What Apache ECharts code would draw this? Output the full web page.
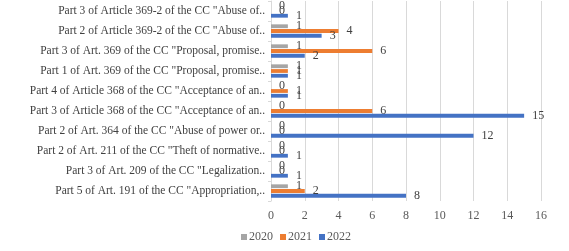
<!DOCTYPE html>
<html><head><meta charset="utf-8">
<script src="https://cdn.jsdelivr.net/npm/echarts@6/dist/echarts.min.js"></script>
<style>html,body{margin:0;padding:0;background:#fff}#c{width:569px;height:251px}</style>
</head><body><div id="c"></div>
<script>
// categories listed top to bottom
const categories = [
  'Part 3 of Article 369-2 of the CC "Abuse of..',
  'Part 2 of Article 369-2 of the CC "Abuse of..',
  'Part 3 of Art. 369 of the CC "Proposal, promise..',
  'Part 1 of Art. 369 of the CC "Proposal, promise..',
  'Part 4 of Article 368 of the CC "Acceptance of an..',
  'Part 3 of Article 368 of the CC "Acceptance of an..',
  'Part 2 of Art. 364 of the CC "Abuse of power or..',
  'Part 2 of Art. 211 of the CC "Theft of normative..',
  'Part 3 of Art. 209 of the CC "Legalization..',
  'Part 5 of Art. 191 of the CC "Appropriation,..'
];
const seriesNames = ['2020', '2021', '2022'];
const values2020 = [0, 1, 1, 1, 0, 0, 0, 0, 0, 1];
const values2021 = [0, 4, 6, 1, 1, 6, 0, 0, 0, 2];
const values2022 = [1, 3, 2, 1, 1, 15, 12, 1, 1, 8];
const xTicks = [0, 2, 4, 6, 8, 10, 12, 14, 16];

const colors = ['#a5a5a5', '#ed7d31', '#4472c4'];
const font = '"Liberation Serif", "DejaVu Serif", serif';
const dataSets = [values2020, values2021, values2022];

const chart = echarts.init(document.getElementById('c'), null, {renderer: 'canvas'});
chart.setOption({
  animation: false,
  color: colors,
  grid: {left: 271, right: 28, top: 1, bottom: 50, containLabel: false},
  xAxis: {
    type: 'value', min: xTicks[0], max: xTicks[xTicks.length - 1], interval: 2,
    axisLine: {show: false}, axisTick: {show: false},
    splitLine: {lineStyle: {color: '#d9d9d9', width: 1}},
    axisLabel: {color: '#595959', fontFamily: font, fontSize: 12, margin: 9}
  },
  yAxis: {
    type: 'category', data: categories, inverse: true,
    axisLine: {show: true, lineStyle: {color: '#d9d9d9'}},
    axisTick: {show: true, length: 3, lineStyle: {color: '#d9d9d9'}},
    axisLabel: {color: '#404040', fontFamily: font, fontSize: 11.5, margin: 6}
  },
  legend: {
    data: seriesNames, bottom: 3, left: 236,
    itemWidth: 6, itemHeight: 6, itemGap: 7, icon: 'rect',
    textStyle: {color: '#595959', fontFamily: font, fontSize: 12, padding: [0, 0, 0, -3]}
  },
  series: seriesNames.map((n, i) => ({
    name: n, type: 'bar', data: dataSets[i],
    barWidth: 3.8, barGap: '25%',
    itemStyle: {color: colors[i]},
    label: {show: true, position: 'right', distance: 8,
      color: '#404040', fontFamily: font, fontSize: 12}
  }))
});
</script></body></html>
